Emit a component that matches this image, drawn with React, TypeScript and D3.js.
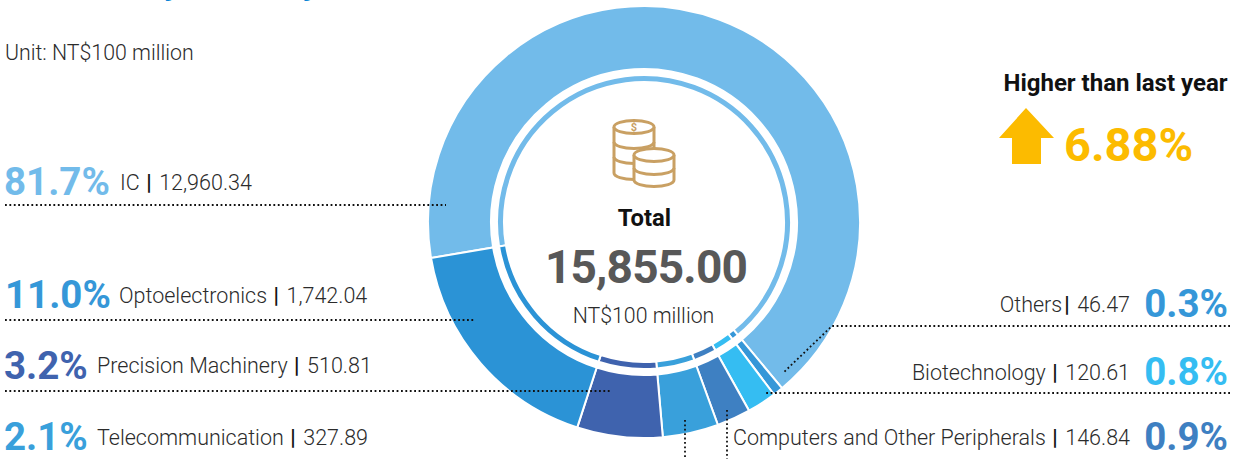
import React from "react";
import * as d3 from "d3";

const categories = ["IC", "Others", "Biotechnology", "Computers and Other Peripherals", "Telecommunication", "Precision Machinery", "Optoelectronics"];
const amounts = ["12,960.34", "46.47", "120.61", "146.84", "327.89", "510.81", "1,742.04"];
const shares = ["81.7%", "0.3%", "0.8%", "0.9%", "2.1%", "3.2%", "11.0%"];
// Arc extent of each slice as drawn in the picture, in degrees (the picture is not to scale)
const drawnArc = [239.9, 2.7, 7.9, 9.1, 15, 23, 62.4];
const colors = ["#72BBEA", "#3597D8", "#35BDF2", "#3E80C2", "#39A0DB", "#3F63AE", "#2B93D6"];
const shareColors = ["#72BBEA", "#3597D8", "#35BDF2", "#3E80C2", "#39A0DB", "#3F63AE", "#3597D8"];

const W = 1235, H = 459, CX = 644, CY = 222;

const pieGen = d3.pie<number>().sort(null).value((d) => d)
  .startAngle((260.4 * Math.PI) / 180).endAngle(((260.4 + 360) * Math.PI) / 180);
const slices = pieGen(drawnArc);
const outerArc = d3.arc<d3.PieArcDatum<number>>().innerRadius(153).outerRadius(216);
const innerArc = d3.arc<d3.PieArcDatum<number>>().innerRadius(140).outerRadius(147);

const FONT = "Roboto, sans-serif";
const TXT = "#2b2b2b";

// layout: [index into data, share x, share baseline, label x, label baseline]
const leftLayout = [
  [0, 4, 195, 120, 190],
  [6, 5, 308, 119, 303],
  [5, 4, 379, 97, 373],
  [4, 4, 450, 97, 445],
];
// layout: [index into data, share baseline, label baseline, gap before the bar]
const rightLayout = [
  [1, 316.5, 311.5, 2],
  [2, 385, 380, 6.5],
  [3, 450, 445, 6.5],
];
const leaders = [
  "M5,205H446", "M5,320H474", "M5,391H612", "M685,420V459", "M727,410V459",
  "M1230,393H765", "M1230,326H832L783,373",
];

function Stack({ cx, top, bottom, bands }: { cx: number; top: number; bottom: number; bands: number[] }) {
  const rx = 20, ry = 6.5;
  const sag = (y: number) => `M${cx - rx},${y}A${rx},${ry} 0 0 0 ${cx + rx},${y}`;
  return (
    <g fill="#fff" stroke="#C9A063" strokeWidth={3}>
      <path d={`M${cx - rx},${top}V${bottom}A${rx},${ry} 0 0 0 ${cx + rx},${bottom}V${top}`} />
      <ellipse cx={cx} cy={top} rx={rx} ry={ry} />
      {bands.map((b) => <path key={b} d={sag(b)} fill="none" />)}
    </g>
  );
}

export default function App() {
  return (
    <svg width={W} height={H} style={{ position: "absolute", left: 0, top: 0 }} fontFamily={FONT}>
      <text x={0} y={-5.8} fontSize={35} fontWeight={700} fill="#0B85D6">Revenue by Industry</text>
      <text x={5} y={60} fontSize={21.3} fontWeight={300} fill={TXT}>Unit: NT$100 million</text>

      <g transform={`translate(${CX},${CY})`} stroke="#fff" strokeWidth={2}>
        {slices.map((s, i) => <path key={categories[i]} d={outerArc(s) ?? ""} fill={colors[i]} />)}
        {slices.map((s, i) => <path key={categories[i] + "-in"} d={innerArc(s) ?? ""} fill={colors[i]} />)}
      </g>

      <Stack cx={634} top={127} bottom={173} bands={[142, 157]} />
      <Stack cx={654} top={155} bottom={180} bands={[168]} />
      <text x={634} y={131} fontSize={11} textAnchor="middle" fill="#C9A063" fontWeight={700}>$</text>

      <text x={644.5} y={226} textAnchor="middle" fontSize={23.8} fontWeight={700} fill="#111">Total</text>
      <text x={646} y={283} textAnchor="middle" fontSize={46} fontWeight={700} letterSpacing={-0.8} fill="#585858">15,855.00</text>
      <text x={643.5} y={322.5} textAnchor="middle" fontSize={21.3} fontWeight={300} fill={TXT}>NT$100 million</text>

      {leaders.map((d) => (
        <path key={d} d={d} fill="none" stroke="#111" strokeWidth={1.8} strokeDasharray="1.8 2.6" />
      ))}

      {leftLayout.map(([i, px, py, tx, ty]) => (
        <g key={categories[i]}>
          <text x={px} y={py} fontSize={38.5} fontWeight={700} fill={shareColors[i]}>{shares[i]}</text>
          <text x={tx} y={ty} fontSize={21.5} fontWeight={300} fill={TXT}>
            {categories[i]}
            <tspan dx={6.5} fontWeight={700} fill="#111">|</tspan>
            <tspan dx={7.5}>{amounts[i]}</tspan>
          </text>
        </g>
      ))}
      {rightLayout.map(([i, py, ty, gap]) => (
        <g key={categories[i]}>
          <text x={1228} y={py} fontSize={38.5} fontWeight={700} textAnchor="end" fill={shareColors[i]}>{shares[i]}</text>
          <text x={1130} y={ty} fontSize={21.5} fontWeight={300} textAnchor="end" fill={TXT}>
            {categories[i]}
            <tspan dx={gap} fontWeight={700} fill="#111">|</tspan>
            <tspan dx={7.5}>{amounts[i]}</tspan>
          </text>
        </g>
      ))}

      <text x={1115.5} y={91} textAnchor="middle" fontSize={24} fontWeight={700} fill="#111">Higher than last year</text>
      <path d="M1026,108L1054,138H1041V164H1012V138H999Z" fill="#FCBB00" />
      <text x={1064} y={161} fontSize={47} fontWeight={700} fill="#FCBB00">6.88%</text>
    </svg>
  );
}
